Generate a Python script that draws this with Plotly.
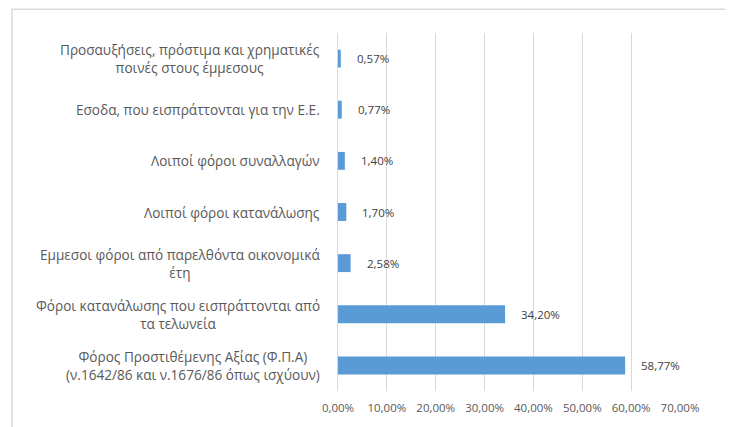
import plotly.graph_objects as go

categories = [
    "Προσαυξήσεις, πρόστιμα και χρηματικές<br>ποινές στους έμμεσους",
    "Εσοδα, που εισπράττονται για την Ε.Ε.",
    "Λοιποί φόροι συναλλαγών",
    "Λοιποί φόροι κατανάλωσης",
    "Εμμεσοι φόροι από παρελθόντα οικονομικά<br>έτη",
    "Φόροι κατανάλωσης που εισπράττονται από<br>τα τελωνεία",
    "Φόρος Προστιθέμενης Αξίας (Φ.Π.Α)<br>(ν.1642/86 και ν.1676/86 όπως ισχύουν)",
]
values = [0.57, 0.77, 1.40, 1.70, 2.58, 34.20, 58.77]
tick_vals = [0, 10, 20, 30, 40, 50, 60, 70]
tick_text = ["0,00%", "10,00%", "20,00%", "30,00%", "40,00%", "50,00%", "60,00%", "70,00%"]

def fmt(v):
    return f"{v:.2f}%".replace(".", ",")

OFF = 8  # page body margin
W, H = 733 - OFF, 427 - OFF
L, R, T, B = 338 - OFF, 53, 33 - OFF, 34
pw, ph = W - L - R, H - T - B

fig = go.Figure()
fig.add_trace(go.Bar(
    x=values, y=list(range(len(categories))), orientation="h",
    marker=dict(color="#5B9BD5", line=dict(width=0)),
    width=0.35, hoverinfo="skip",
))

font_family = "Open Sans, Liberation Sans, sans-serif"

annotations = []
for i, (c, v) in enumerate(zip(categories, values)):
    annotations.append(dict(
        x=v, y=i, xref="x", yref="y", text=fmt(v), showarrow=False,
        xanchor="left", yanchor="middle", xshift=14,
        font=dict(size=11.5, color="#404040", family=font_family),
    ))
    annotations.append(dict(
        x=-16 / pw, y=i, xref="paper", yref="y", text=c, showarrow=False,
        xanchor="right", yanchor="middle", align="center",
        font=dict(size=13.6, color="#595959", family=font_family),
    ))

fig.update_layout(
    width=W, height=H,
    margin=dict(l=L, r=R, t=T, b=B),
    paper_bgcolor="white", plot_bgcolor="white",
    showlegend=False,
    annotations=annotations,
    xaxis=dict(range=[0, 70], tickvals=tick_vals, ticktext=tick_text,
               showgrid=True, gridcolor="#d9d9d9", gridwidth=1,
               zeroline=False, showline=False, ticks="",
               ticklabelstandoff=8,
               tickfont=dict(size=11.5, color="#595959", family=font_family)),
    yaxis=dict(range=[len(categories) - 0.5, -0.5], showticklabels=False,
               showgrid=False, zeroline=False, showline=True,
               linecolor="#d9d9d9", linewidth=1, ticks=""),
    shapes=[dict(type="rect", xref="paper", yref="paper",
                 x0=(12 - OFF - L) / pw, x1=(726 - OFF - L) / pw,
                 y0=-0.3, y1=(H - B - 1) / ph,
                 line=dict(color="#d9d9d9", width=1.5), layer="below")],
)

fig.write_html("out.html")
